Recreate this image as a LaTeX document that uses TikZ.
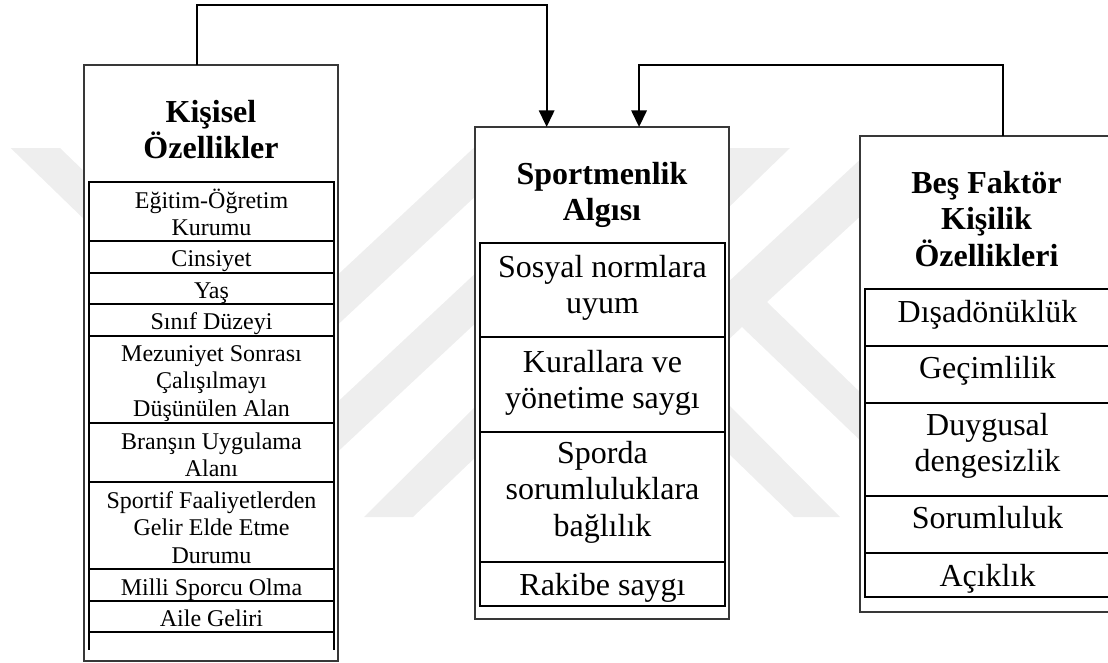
\documentclass[tikz,border=0pt]{standalone}
\usepackage{fontspec}
\setmainfont{Liberation Serif}
\usetikzlibrary{arrows.meta}
\tikzset{
  outerbox/.style={draw=black!78,line width=1.15pt,fill=white,inner sep=0pt,outer sep=0pt,font=\fontsize{24}{27.4}\selectfont\bfseries},
  smallcell/.style={draw=black,line width=1.5pt,inner sep=0pt,outer sep=0pt,font=\fontsize{18}{20.7}\selectfont},
  bigcell/.style={draw=black,line width=1.5pt,inner sep=0pt,outer sep=0pt,font=\fontsize{24}{27.4}\selectfont},
  conn/.style={draw=black,line width=1.75pt},
  arrowconn/.style={conn,-{Triangle[length=12.5pt,width=11.5pt]}},
  mark shape/.style={fill=black!6.5,draw=none},
  openside/.style={draw=black,line width=1.5pt}
}
% style, name, x0, y0, x1, y1, first baseline offset (all in pixels), text
\newcommand{\pxbox}[8]{%
  \pgfmathsetlengthmacro{\pxw}{(#5-#3)*0.75pt}%
  \pgfmathsetlengthmacro{\pxh}{(#6-#4)*0.75pt}%
  \pgfmathsetlengthmacro{\pxb}{#7*0.75pt}%
  \node[#1] (#2) at ({(#3+#5)/2},{(#4+#6)/2})
    {\parbox[c][\pxh][t]{\pxw}{\centering\rule{0pt}{\pxb}#8}};%
}
\begin{document}
\begin{tikzpicture}[x=0.75pt,y=-0.75pt]
\path[use as bounding box,clip] (0,0) rectangle (1108,662);
% faint background mark
\path[mark shape] (10.6,148) -- (60,148) -- (90,177) -- (90,225) -- cycle;
\path[mark shape] (330,282) -- (480,142) -- (480,192) -- (330,332) -- cycle;
\path[mark shape] (330,409) -- (480,269) -- (480,319) -- (330,459) -- cycle;
\path[mark shape] (364,517) -- (480,402) -- (480,453) -- (413,517) -- cycle;
\path[mark shape] (725,148) -- (790,148) -- (725,211) -- cycle;
\path[mark shape] (725,285) -- (865,155) -- (865,212) -- (767,302) -- (865,397) -- (865,445) -- (742,327) -- (725,343) -- cycle;
\path[mark shape] (725,401) -- (840,517) -- (794,517) -- (725,450) -- cycle;
% outer boxes
\pxbox{outerbox}{k}{84}{65}{338}{661}{57}{Kişisel\\Özellikler}
\pxbox{outerbox}{s}{475}{127}{729}{619}{57}{Sportmenlik\\Algısı}
\pxbox{outerbox}{b}{860}{136}{1113}{612}{57}{Beş Faktör\\Kişilik\\Özellikleri}
% left table
\pxbox{smallcell}{k1}{89}{182}{334}{241}{26}{Eğitim-Öğretim\\Kurumu}
\pxbox{smallcell}{k2}{89}{241}{334}{273}{25}{Cinsiyet}
\pxbox{smallcell}{k3}{89}{273}{334}{304}{25}{Yaş}
\pxbox{smallcell}{k4}{89}{304}{334}{336}{25}{Sınıf Düzeyi}
\pxbox{smallcell}{k5}{89}{336}{334}{423}{25}{Mezuniyet Sonrası\\Çalışılmayı\\Düşünülen Alan}
\pxbox{smallcell}{k6}{89}{423}{334}{482}{26}{Branşın Uygulama\\Alanı}
\pxbox{smallcell}{k7}{89}{482}{334}{569}{26}{Sportif Faaliyetlerden\\Gelir Elde Etme\\Durumu}
\pxbox{smallcell}{k8}{89}{569}{334}{601}{26}{Milli Sporcu Olma}
\pxbox{smallcell}{k9}{89}{601}{334}{632}{25}{Aile Geliri}
\draw[openside] (k9.south west) -- ++(0,18);
\draw[openside] (k9.south east) -- ++(0,18);
% middle table
\pxbox{bigcell}{s1}{480}{243}{725}{337}{34}{Sosyal normlara\\uyum}
\pxbox{bigcell}{s2}{480}{337}{725}{432}{35}{Kurallara ve\\yönetime saygı}
\pxbox{bigcell}{s3}{480}{432}{725}{562}{31}{Sporda\\sorumluluklara\\bağlılık}
\pxbox{bigcell}{s4}{480}{562}{725}{606}{33}{Rakibe saygı}
% right table
\pxbox{bigcell}{b1}{865}{289}{1110}{346}{33}{Dışadönüklük}
\pxbox{bigcell}{b2}{865}{346}{1110}{403}{32}{Geçimlilik}
\pxbox{bigcell}{b3}{865}{403}{1110}{496}{32}{Duygusal\\dengesizlik}
\pxbox{bigcell}{b4}{865}{496}{1110}{553}{32}{Sorumluluk}
\pxbox{bigcell}{b5}{865}{553}{1110}{597}{33}{Açıklık}
% connectors
\draw[arrowconn] ([xshift=-10.5pt]k.north) -- ++(0,-60) -| ([xshift=-41.5pt]s.north);
\draw[arrowconn] ([xshift=12.4pt]b.north) -- ++(0,-71) -| ([xshift=27.8pt]s.north);
\end{tikzpicture}
\end{document}
